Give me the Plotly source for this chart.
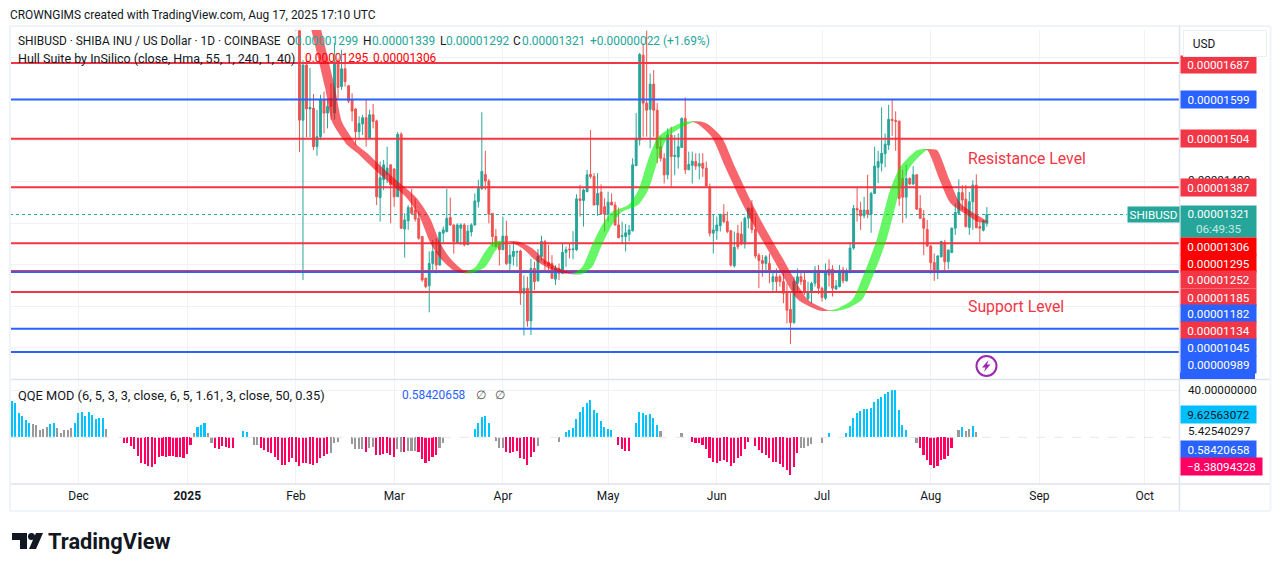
import numpy as np
import pandas as pd
import plotly.graph_objects as go
from plotly.subplots import make_subplots

W, H = 1281, 571

# daily candles from Feb 1, prices in units of 0.00000001 USD
open_ = [1830,1765,1549,1682,1576,1578,1485,1509,1598,1566,
         1602,1566,1690,1630,1673,1632,1598,1576,1521,1540,
         1555,1505,1562,1547,1362,1405,1417,1441,1431,1364,
         1515,1286,1306,1338,1332,1312,1268,1167,1149,1203,
         1232,1199,1276,1280,1314,1296,1252,1288,1296,1248,
         1279,1296,1352,1384,1418,1402,1324,1268,1252,1236,
         1269,1203,1220,1230,1233,1131,1143,1064,1191,1161,
         1220,1256,1206,1203,1165,1191,1179,1230,1238,1236,
         1236,1359,1355,1376,1418,1413,1344,1375,1340,1322,
         1351,1344,1296,1268,1268,1273,1282,1439,1501,1706,
         1590,1575,1636,1573,1485,1457,1417,1513,1461,1460,
         1483,1553,1429,1440,1449,1438,1445,1433,1388,1276,
         1282,1294,1322,1304,1282,1197,1276,1274,1250,1312,
         1336,1285,1223,1210,1203,1203,1159,1171,1171,1159,
         1135,1092,1060,1155,1171,1163,1118,1132,1155,1187,
         1143,1119,1189,1189,1141,1147,1187,1161,1181,1240,
         1336,1332,1318,1332,1322,1372,1435,1445,1468,1489,
         1551,1548,1547,1408,1363,1408,1395,1417,1336,1312,
         1285,1245,1205,1183,1219,1254,1207,1229,1288,1324,
         1374,1358,1290,1352,1392,1292,1283,1299]
high = [1900,1790,1694,1694,1675,1612,1574,1610,1618,1598,
        1638,1735,1698,1719,1690,1634,1614,1578,1558,1562,
        1598,1574,1588,1550,1449,1453,1485,1442,1433,1520,
        1520,1324,1344,1383,1360,1328,1268,1169,1232,1260,
        1264,1280,1292,1383,1362,1296,1300,1300,1300,1296,
        1300,1372,1405,1568,1475,1407,1324,1286,1256,1316,
        1306,1248,1256,1233,1236,1174,1171,1214,1207,1238,
        1270,1260,1248,1223,1199,1203,1252,1244,1252,1281,
        1370,1393,1384,1429,1525,1421,1421,1394,1360,1376,
        1372,1352,1338,1304,1298,1296,1457,1566,1711,1734,
        1765,1662,1670,1590,1509,1469,1529,1533,1513,1517,
        1556,1604,1473,1473,1469,1469,1469,1449,1396,1320,
        1316,1322,1346,1328,1284,1280,1296,1304,1316,1338,
        1356,1316,1228,1223,1223,1227,1183,1191,1177,1179,
        1155,1131,1171,1191,1183,1183,1159,1159,1197,1199,
        1147,1203,1213,1199,1163,1199,1195,1191,1253,1344,
        1388,1352,1364,1417,1376,1485,1475,1580,1517,1586,
        1598,1570,1547,1429,1441,1411,1438,1419,1368,1332,
        1308,1248,1227,1223,1258,1260,1237,1290,1348,1406,
        1392,1392,1376,1404,1418,1304,1308,1339]
low = [1765,1472,1163,1508,1508,1477,1463,1501,1517,1529,
       1550,1550,1598,1622,1630,1590,1546,1489,1501,1513,
       1485,1505,1529,1344,1304,1380,1397,1300,1340,1364,
       1286,1217,1284,1320,1304,1260,1159,1143,1085,1183,
       1179,1198,1252,1278,1294,1227,1252,1248,1244,1248,
       1268,1294,1338,1380,1380,1300,1244,1241,1198,1236,
       1199,1183,1198,1195,1103,1029,1050,1030,1139,1159,
       1209,1187,1179,1166,1151,1163,1177,1195,1215,1213,
       1233,1316,1292,1376,1408,1344,1318,1322,1280,1304,
       1344,1294,1264,1252,1232,1256,1280,1439,1488,1509,
       1509,1481,1509,1445,1449,1396,1406,1388,1416,1432,
       1483,1419,1429,1396,1429,1406,1412,1388,1268,1227,
       1260,1280,1300,1276,1195,1193,1237,1247,1239,1288,
       1276,1215,1143,1171,1183,1155,1137,1135,1147,1107,
       1058,1008,1057,1135,1151,1127,1114,1107,1147,1129,
       1111,1115,1147,1123,1139,1145,1155,1159,1179,1236,
       1304,1284,1312,1312,1277,1371,1397,1425,1435,1477,
       1511,1475,1342,1301,1312,1392,1392,1332,1310,1223,
       1243,1178,1161,1165,1217,1187,1189,1229,1272,1324,
       1332,1290,1272,1284,1288,1253,1280,1292]
close = [1769,1549,1682,1576,1580,1485,1509,1598,1566,1582,
         1582,1690,1628,1673,1642,1595,1571,1521,1541,1555,
         1507,1562,1546,1364,1410,1441,1433,1393,1364,1515,
         1288,1308,1338,1324,1310,1264,1163,1147,1203,1232,
         1199,1278,1284,1312,1296,1256,1296,1296,1248,1281,
         1296,1354,1384,1425,1402,1322,1268,1244,1236,1269,
         1203,1223,1232,1232,1131,1143,1064,1191,1159,1220,
         1256,1203,1198,1167,1191,1179,1230,1236,1236,1238,
         1359,1355,1380,1417,1413,1344,1372,1322,1322,1351,
         1344,1296,1265,1270,1277,1284,1441,1505,1708,1590,
         1573,1636,1573,1481,1457,1417,1513,1461,1464,1485,
         1553,1429,1442,1450,1438,1444,1433,1390,1276,1284,
         1296,1322,1304,1280,1199,1242,1243,1250,1312,1336,
         1285,1221,1210,1203,1219,1183,1171,1159,1159,1131,
         1090,1060,1159,1171,1159,1132,1134,1155,1187,1143,
         1121,1183,1175,1143,1149,1187,1161,1181,1240,1336,
         1332,1318,1332,1322,1372,1438,1449,1469,1491,1551,
         1548,1546,1360,1363,1408,1395,1417,1334,1312,1288,
         1245,1205,1183,1221,1256,1207,1235,1288,1326,1374,
         1356,1292,1352,1392,1289,1288,1305,1321]

# hull band read at knots, days after Feb 1
hull_days = [3.1,5.4,7.7,9.7,11.7,13.7,16,18.8,23.4,28.2,33,36.8,39.6,42.5,46.2,49,
             52.5,55.3,57.6,59.6,
             62.4,65.9,69.6,73.3,77.3,80.1,
             83,85.8,88.7,91.5,96.1,99,101.8,104.6,108.6,112.3,114,
             116,120,123.8,128.6,133.2,137.2,140.9,144.6,150.3,152.8,
             156,160,163,167,170.8,173.7,178.5,180,
             181.4,185,188,192.8,196]
hull_vals = [1839,1779,1699,1627,1545,1516,1489,1470,1433,1397,1361,1313,1255,1216,1187,1180,
             1194,1231,1255,1257,
             1255,1240,1211,1192,1180,1177,
             1194,1247,1296,1327,1344,1380,1453,1508,1532,1545,1546,
             1540,1508,1436,1349,1276,1218,1163,1115,1090,1088,
             1095,1115,1170,1260,1380,1436,1477,1479,
             1477,1404,1349,1320,1303]

red_levels = [1687,1504,1387,1252,1185,1134]
blue_levels = [1599,1182,1045,989]
last_price = 1321
price_grid = [1000,1100,1200,1300,1400,1500,1600,1700]

# QQE histogram, one bar a day from Nov 12
qqe_vals = [31.1,28.8,20.3,18.1,14.7,11.9,11.3,10.5,6.2,6.8,9.0,11.3,12.1,7.6,4.0,6.2,6.2,8.2,
            11.9,20.3,21.8,18.1,21.8,18.9,15.5,16.7,16.7,6.8,None,None,None,None,
            -4.5,-4.5,-7.1,-9.9,-15.8,-22.0,-22.6,-24.0,-24.9,-22.6,-17.0,-15.8,-16.4,-15.8,-15.8,-17.0,-17.0,-17.8,-14.1,-6.5,
            3.4,9.0,10.5,12.1,3.4,-4.5,-9.3,-10.2,-7.1,-7.9,-9.3,-9.3,None,None,5.4,4.8,None,-6.5,-6.5,
            -9.3,-10.7,-12.1,-13.0,-17.0,-19.2,-23.4,-23.4,-20.6,-17.8,-20.6,-24.3,-21.5,-22.0,-22.6,-23.4,-22.0,-17.8,-15.8,-14.1,
            -13.0,-5.1,-3.7,None,None,None,-5.7,-9.9,-10.2,-10.2,-12.1,-8.8,-7.9,
            -15.3,-15.0,-14.1,-13.6,-15.0,-17.0,-10.2,-12.1,-12.1,-11.3,-11.3,-11.3,
            -12.1,-18.4,-21.5,-20.1,-17.0,-15.0,-8.8,-4.5,None,None,None,None,None,None,None,None,
            7.1,12.4,17.5,18.1,11.9,None,-3.1,-8.8,-8.8,-12.1,-13.0,-12.1,-11.3,-17.2,-18.6,-23.4,-16.4,-12.1,-7.1,
            None,None,None,None,None,-4.0,None,4.8,6.2,7.6,15.5,21.8,26.0,28.8,31.6,23.2,20.3,13.8,9.0,6.8,6.2,None,
            -6.5,-9.9,-11.6,-11.6,None,12.4,21.5,20.3,18.9,19.8,16.1,10.5,5.4,None,None,None,None,None,3.4,None,None,
            -3.7,-4.5,-5.1,-6.5,-9.9,-17.2,-20.6,-21.5,-19.8,-19.2,-20.6,-24.3,-21.5,-17.8,-15.5,-9.9,-4.0,None,
            -7.3,-10.7,-13.6,-15.0,-17.8,-20.6,-20.6,-22.6,-24.9,-27.7,-31.9,-25.4,-13.0,-9.3,-9.3,-7.3,-5.7,None,None,-4.5,None,
            3.4,None,None,None,None,3.4,9.6,16.1,20.3,22.3,23.7,24.0,24.6,29.9,32.2,33.9,36.7,38.7,40.1,40.1,23.2,10.5,6.2,None,None,
            -5.1,-9.3,-15.0,-19.2,-23.4,-26.3,-24.0,-19.2,-18.6,-15.8,-8.8,None,6.2,8.5,5.4,7.1,9.6,4.2]
qqe_state = ("b"*6 + "g"*5 + "b"*2 + "g"*5 + "b"*9 + "g" + "."*4 + "r"*20 + "g" + "b"*3 + "g"*2 + "r"*6
             + "."*2 + "b"*2 + "." + "g"*2 + "r"*20 + "g"*3 + "."*3 + "g"*4 + "r" + "g"*2 + "r"*6 + "g"*2
             + "r" + "g"*3 + "r"*6 + "g"*2 + "."*8 + "b"*5 + "." + "g"*3 + "r"*9 + "g" + "."*5 + "g" + "."
             + "b"*14 + "." + "r"*4 + "." + "b"*7 + "g" + "."*5 + "g" + "."*2 + "r"*17 + "." + "r"*13
             + "g"*4 + "."*2 + "g" + "." + "b" + "."*4 + "b"*18 + "."*2 + "g" + "r"*10 + "." + "g" + "b"
             + "g"*2 + "b" + "g")

month_ticks = ["2024-12-01","2025-01-01","2025-02-01","2025-03-01","2025-04-01","2025-05-01",
               "2025-06-01","2025-07-01","2025-08-01","2025-09-01","2025-10-01"]
month_labels = ["Dec","<b>2025</b>","Feb","Mar","Apr","May","Jun","Jul","Aug","Sep","Oct"]

TEAL = "#26a69a"
RED = "#f23645"
BLUE = "#2962ff"
FONT = "Roboto"
GRID = "#f1f2f5"
EDGE = "#e0e3eb"


def px(x):
    return x / W


def py(y):
    return 1 - y / H


dates = pd.date_range("2025-02-01", periods=len(close))
feb1 = pd.Timestamp("2025-02-01")
qqe_dates = pd.date_range("2024-11-12", periods=len(qqe_vals))

fig = make_subplots(rows=2, cols=1, shared_xaxes=True)

fig.add_trace(go.Candlestick(
    x=dates, open=open_, high=high, low=low, close=close,
    increasing=dict(line=dict(color=TEAL, width=1), fillcolor=TEAL),
    decreasing=dict(line=dict(color="#ef5350", width=1), fillcolor="#ef5350"),
    whiskerwidth=0, showlegend=False, hoverinfo="skip"), row=1, col=1)

x_start, x_end = "2024-11-11 11:00", "2025-10-10 19:00"

# horizontal levels
for lvl in red_levels + blue_levels:
    fig.add_trace(go.Scatter(
        x=[x_start, x_end], y=[lvl, lvl], mode="lines",
        line=dict(color=RED if lvl in red_levels else BLUE, width=2),
        showlegend=False, hoverinfo="skip"), row=1, col=1)
fig.add_trace(go.Scatter(
    x=[x_start, "2025-09-26"], y=[last_price, last_price], mode="lines",
    line=dict(color=TEAL, width=1, dash="dot"), showlegend=False, hoverinfo="skip"), row=1, col=1)

# hull band: split at the turning points, red falling and green rising
days = np.array(hull_days)
vals = np.array(hull_vals)
turns = [0] + [i for i in range(1, len(vals) - 1)
               if (vals[i] - vals[i - 1]) * (vals[i + 1] - vals[i]) < 0] + [len(vals) - 1]
for a, b in zip(turns[:-1], turns[1:]):
    seg_d = days[a:b + 1]
    seg_v = vals[a:b + 1]
    rising = seg_v[-1] > seg_v[0]
    left = feb1 + pd.to_timedelta(seg_d - 1.4, unit="D")
    right = feb1 + pd.to_timedelta(seg_d[::-1] + 1.4, unit="D")
    fig.add_trace(go.Scatter(
        x=list(left) + list(right), y=list(seg_v) + list(seg_v[::-1]),
        mode="lines", fill="toself",
        line=dict(width=0, shape="spline", smoothing=0.7),
        fillcolor="rgba(0,240,0,0.6)" if rising else "rgba(240,0,10,0.6)",
        showlegend=False, hoverinfo="skip"), row=1, col=1)

# QQE histogram
state_color = {"b": "#00c3ff", "g": "#999999", "r": "#ff0062", ".": "rgba(0,0,0,0)"}
fig.add_trace(go.Bar(
    x=qqe_dates, y=qqe_vals, marker=dict(color=[state_color[s] for s in qqe_state], line=dict(width=0)),
    width=0.46 * 86400000, showlegend=False, hoverinfo="skip"), row=2, col=1)

fig.update_layout(
    width=W, height=H, margin=dict(l=0, r=0, t=0, b=0),
    paper_bgcolor="white", plot_bgcolor="white", showlegend=False,
    font=dict(family=FONT, size=12, color="#131722"), bargap=0, boxgap=0.25,
    xaxis=dict(domain=[px(10), px(1179)], range=[x_start, x_end], rangeslider=dict(visible=False),
               tickvals=month_ticks, showticklabels=False, showgrid=True, gridcolor=GRID, zeroline=False),
    xaxis2=dict(domain=[px(10), px(1179)], range=[x_start, x_end], tickvals=month_ticks, ticktext=month_labels,
                showgrid=True, gridcolor=GRID, zeroline=False, ticks="", ticklen=0, ticklabelstandoff=3,
                tickfont=dict(family=FONT, size=12, color="#131722")),
    yaxis=dict(domain=[py(379), py(30)], range=[923.9, 1766.7], tickvals=price_grid, showticklabels=False,
               showgrid=True, gridcolor=GRID, zeroline=False),
    yaxis2=dict(domain=[py(484), py(380)], range=[-39.6, 48.6], tickvals=[40], showticklabels=False,
                showgrid=True, gridcolor=GRID, zeroline=False),
)


def rect(x0, y0, x1, y1, **kw):
    fig.add_shape(type="rect", xref="paper", yref="paper",
                  x0=px(x0), x1=px(x1), y0=py(y0), y1=py(y1), **kw)


def hline(x0, x1, y, color=EDGE, width=1, dash="solid"):
    fig.add_shape(type="line", xref="paper", yref="paper", x0=px(x0), x1=px(x1), y0=py(y), y1=py(y),
                  line=dict(color=color, width=width, dash=dash))


def vline(x, y0, y1, color=EDGE, width=1):
    fig.add_shape(type="line", xref="paper", yref="paper", x0=px(x), x1=px(x), y0=py(y0), y1=py(y1),
                  line=dict(color=color, width=width))


def path(points, **kw):
    d = "M " + " L ".join(f"{px(x):.5f},{py(y):.5f}" for x, y in points) + " Z"
    fig.add_shape(type="path", xref="paper", yref="paper", path=d, **kw)


def text(s, x, y, color="#131722", size=11.9, anchor="left", **kw):
    # annotations sit about 2px right of their anchor
    fig.add_annotation(xref="paper", yref="paper", x=px(x - 2), y=py(y), text=s, showarrow=False,
                       xanchor=anchor, yanchor="middle", align="left",
                       font=dict(family=FONT, size=size, color=color), **kw)


def label(s, y, bg, color="white", w=75, h=17):
    fig.add_annotation(xref="paper", yref="paper", x=px(1180), y=py(y), text=s, showarrow=False,
                       xanchor="left", yanchor="middle", align="center", width=w, height=h,
                       bgcolor=bg, borderpad=0, font=dict(family=FONT, size=11.7, color=color))


# frame
hline(10, 1270, 26, "#f0f3fa", 2)
hline(10, 1270, 379.5, EDGE, 1.5)
hline(10, 1270, 484, EDGE, 1.5)
hline(10, 1270, 511, "#f0f3fa", 2)
vline(10, 26, 511, "#f0f3fa", 2)
vline(1179.5, 26, 511, EDGE, 1.5)
vline(1270.5, 26, 511, "#f0f3fa", 2)
hline(10, 1179, 437.3, "#e6e8ee", 1, "dash")

# header and legends
text("CROWNGIMS created with TradingView.com, Aug 17, 2025 17:10 UTC", 10, 15)
text("SHIBUSD · SHIBA INU / US Dollar · 1D · COINBASE", 18, 41)
text("O", 287, 41)
text("0.00001299", 295, 41, TEAL)
text("H", 363, 41)
text("0.00001339", 371.5, 41, TEAL)
text("L", 440, 41)
text("0.00001292", 445.5, 41, TEAL)
text("C", 513, 41)
text("0.00001321", 521.5, 41, TEAL)
text("+0.00000022 (+1.69%)", 590, 41, TEAL)
text("Hull Suite by InSilico (close, Hma, 55, 1, 240, 1, 40)", 18, 58, size=12.5)
text("0.00001295", 305, 58, "#ff0000")
text("0.00001306", 372.5, 58, "#ff0000")
text("QQE MOD (6, 5, 3, 3, close, 6, 5, 1.61, 3, close, 50, 0.35)", 18, 395, size=12.8)
text("0.58420658", 402, 395, BLUE)
text("∅", 476, 395, "#555555")
text("∅", 495, 395, "#555555")
text("Resistance Level", 968, 158, RED, 15.8)
text("Support Level", 968, 306, RED, 15.8)

# price axis labels
label("0.00001687", 64, RED)
fig.add_annotation(xref="paper", yref="paper", x=px(1183), y=py(44), text="&nbsp;&nbsp;&nbsp;USD", showarrow=False,
                   xanchor="left", yanchor="middle", align="left", width=82, height=25,
                   bgcolor="white", bordercolor="#eceef2", borderwidth=1, borderpad=0,
                   font=dict(family=FONT, size=11.9, color="#131722"))
label("0.00001599", 99, BLUE)
label("0.00001504", 138, RED)
text("0.00001400", 1188, 180, size=11.7)
label("0.00001387", 187, RED)
fig.add_annotation(xref="paper", yref="paper", x=px(1127), y=py(214.5), text="SHIBUSD", showarrow=False,
                   xanchor="left", yanchor="middle", align="center", width=51, height=15,
                   bgcolor=TEAL, borderpad=0, font=dict(family=FONT, size=11.7, color="white"))
fig.add_annotation(xref="paper", yref="paper", x=px(1180), y=py(221.5),
                   text="0.00001321<br><span style='color:#c8e8e4'>06:49:35</span>",
                   showarrow=False, xanchor="left", yanchor="middle", align="center", width=75, height=31,
                   bgcolor=TEAL, borderpad=0, font=dict(family=FONT, size=11.7, color="white"))
label("0.00001306", 246, "#ff0000")
label("0.00001295", 263, "#ff0000")
label("0.00001252", 280, RED)
label("0.00001185", 297, RED)
label("0.00001182", 313, BLUE)
label("0.00001134", 330, RED)
label("0.00001045", 347, BLUE)
label("0.00000989", 364, BLUE)
rect(1180, 372.5, 1255, 379, fillcolor=BLUE, line=dict(width=0))

# QQE axis labels
text("40.00000000", 1188, 390, size=11.7)
label("9.62563072", 414, "#00bfff", "#131722")
text("5.42540297", 1188, 431, size=11.7)
label("0.58420658", 449, BLUE)
label("−8.38094328", 466, "#ff0062", w=81)

# lightning badge
fig.add_shape(type="circle", xref="paper", yref="paper", x0=px(976.5), x1=px(996.5), y0=py(376), y1=py(356),
              line=dict(color="#9c27b0", width=2), fillcolor="white")
path([(988.5, 360), (982, 367.5), (985.5, 367.5), (984, 372), (990.5, 364.5), (987, 364.5)],
     fillcolor="#9c27b0", line=dict(width=0))

# TradingView logo
path([(12, 533), (27, 533), (27, 549), (20, 549), (20, 540), (12, 540)], fillcolor="#131722", line=dict(width=0))
fig.add_shape(type="circle", xref="paper", yref="paper", x0=px(28), x1=px(35), y0=py(540), y1=py(533),
              fillcolor="#131722", line=dict(width=0))
path([(36, 533), (43, 533), (36, 549), (29, 549)], fillcolor="#131722", line=dict(width=0))
text("<b>TradingView</b>", 48, 541, "#131722", 21.8)

fig.write_html("out.html", config=dict(displayModeBar=False),
               post_script="document.body.style.margin='0';document.body.style.overflow='hidden';")
